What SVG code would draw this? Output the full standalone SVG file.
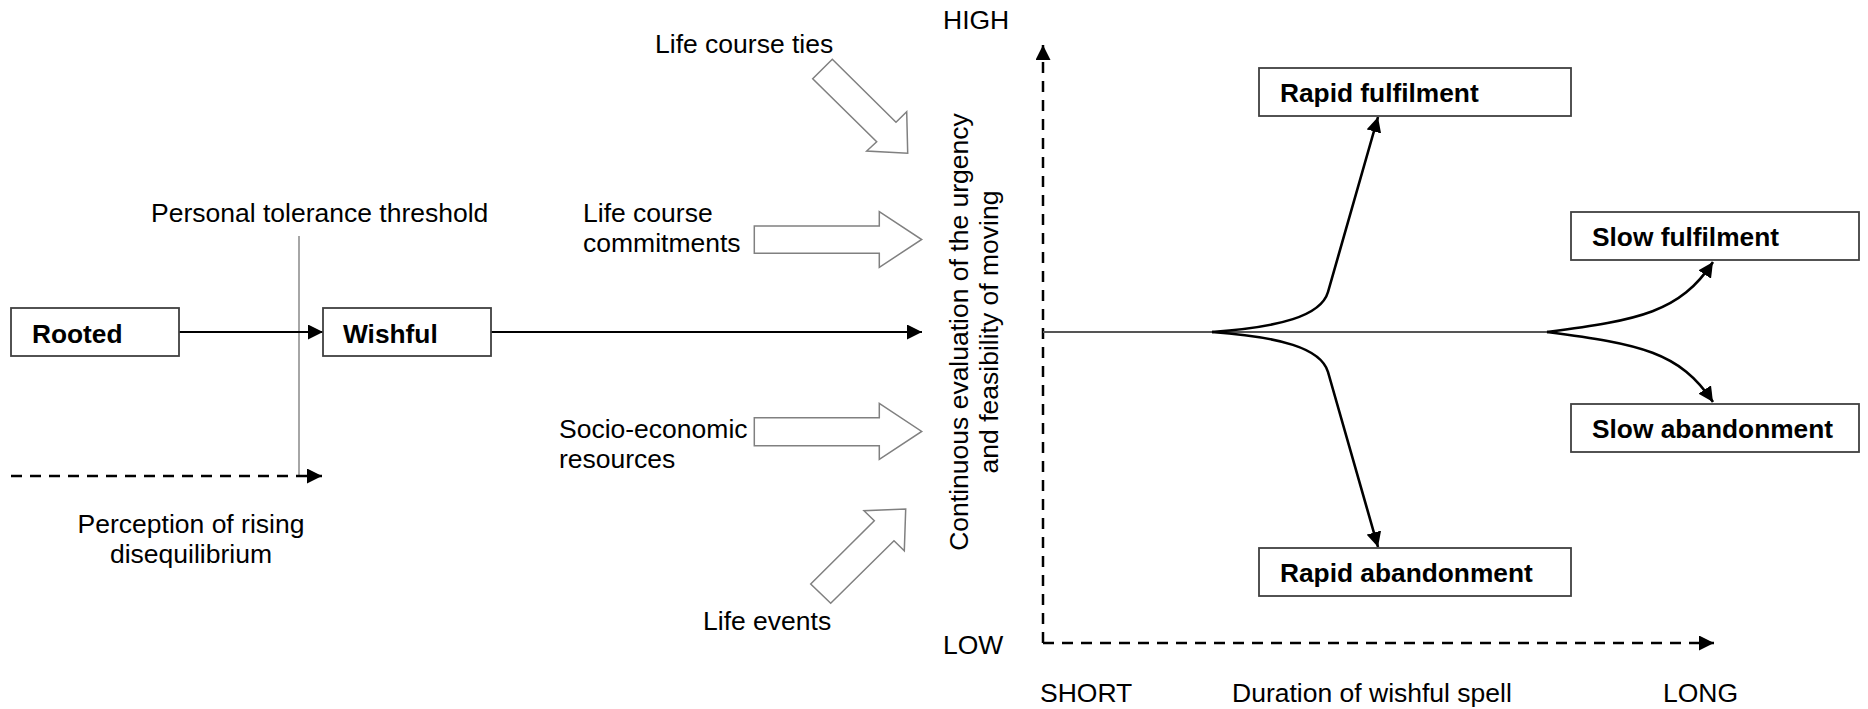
<svg xmlns="http://www.w3.org/2000/svg" width="1868" height="709" viewBox="0 0 1868 709">
<style>
text{font-family:"Liberation Sans",Arial,sans-serif;font-size:26.5px;fill:#000}
.b{font-weight:bold;font-size:26.3px}
.box{fill:#fff;stroke:#404040;stroke-width:1.8}
.blk{fill:#fff;stroke:#808080;stroke-width:1.5}
.con{fill:none;stroke:#000;stroke-width:2.2}
.dash{fill:none;stroke:#000;stroke-width:2.5;stroke-dasharray:11 8}
.curve{fill:none;stroke:#000;stroke-width:2.6}
</style>
<defs>
<marker id="ah" viewBox="0 0 15 15" refX="15" refY="7.5" markerWidth="15" markerHeight="15" markerUnits="userSpaceOnUse" orient="auto">
<path d="M0,0 L15,7.5 L0,15 z" fill="#000"/>
</marker>
</defs>
<rect width="1868" height="709" fill="#fff"/>

<g id="threshold">
<line x1="299" y1="236" x2="299" y2="475" stroke="#a6a6a6" stroke-width="2"/>
<text x="151" y="222">Personal tolerance threshold</text>
</g>

<g id="connectors">
<line class="con" x1="179" y1="332" x2="323" y2="332" marker-end="url(#ah)"/>
<line class="con" x1="491" y1="332" x2="922" y2="332" marker-end="url(#ah)"/>
<line class="dash" x1="11" y1="476" x2="322" y2="476" marker-end="url(#ah)"/>
<line class="dash" x1="1043" y1="643" x2="1043" y2="45" marker-end="url(#ah)"/>
<line class="dash" x1="1043" y1="643" x2="1714" y2="643" marker-end="url(#ah)"/>
<line x1="1043" y1="332" x2="1547" y2="332" stroke="#555" stroke-width="2.2"/>
<path class="curve" d="M1212,332 C1280,327 1321,316 1328,292 L1378,117" marker-end="url(#ah)"/>
<path class="curve" d="M1212,332 C1280,337 1321,348 1328,372 L1378,547" marker-end="url(#ah)"/>
<path class="curve" d="M1547,332 C1640,320 1680,312 1713,262" marker-end="url(#ah)"/>
<path class="curve" d="M1547,332 C1640,344 1680,352 1713,402" marker-end="url(#ah)"/>
</g>

<g id="rooted">
<rect class="box" x="11" y="308" width="168" height="48"/>
<text class="b" x="32" y="343">Rooted</text>
</g>
<g id="wishful">
<rect class="box" x="323" y="308" width="168" height="48"/>
<text class="b" x="343" y="343">Wishful</text>
</g>
<g id="perception">
<text x="191" y="533" text-anchor="middle">Perception of rising</text>
<text x="191" y="563" text-anchor="middle">disequilibrium</text>
</g>

<g id="life-course-ties">
<polygon class="blk" points="832.3,59.3 896,122.3 906.7,111.7 907.7,153.3 866.7,151 876.7,141.7 812.7,78.7"/>
<text x="655" y="53">Life course ties</text>
</g>
<g id="life-course-commitments">
<polygon class="blk" points="754.3,226 879.3,226 879.3,211.7 921.7,239.5 879.3,267.3 879.3,253.3 754.3,253.3"/>
<text x="583" y="222">Life course</text>
<text x="583" y="252">commitments</text>
</g>
<g id="socio-economic-resources">
<polygon class="blk" points="754.3,417.7 879.3,417.7 879.3,403.3 921.7,431.5 879.3,459.3 879.3,445.7 754.3,445.7"/>
<text x="559" y="438">Socio-economic</text>
<text x="559" y="468">resources</text>
</g>
<g id="life-events">
<polygon class="blk" points="810.7,584 874.3,520.7 864,510.7 905.7,509 904.3,550.7 894,540.7 830.7,603.3"/>
<text x="703" y="630">Life events</text>
</g>

<g id="evaluation">
<text transform="translate(968,332) rotate(-90)" text-anchor="middle">Continuous evaluation of the urgency</text>
<text transform="translate(998,332) rotate(-90)" text-anchor="middle">and feasibility of moving</text>
</g>

<g id="axis-labels">
<text x="943" y="29">HIGH</text>
<text x="943" y="654">LOW</text>
<text x="1040" y="702">SHORT</text>
<text x="1232" y="702">Duration of wishful spell</text>
<text x="1663" y="702">LONG</text>
</g>

<g id="rapid-fulfilment">
<rect class="box" x="1259" y="68" width="312" height="48"/>
<text class="b" x="1280" y="102">Rapid fulfilment</text>
</g>
<g id="rapid-abandonment">
<rect class="box" x="1259" y="548" width="312" height="48"/>
<text class="b" x="1280" y="582">Rapid abandonment</text>
</g>
<g id="slow-fulfilment">
<rect class="box" x="1571" y="212" width="288" height="48"/>
<text class="b" x="1592" y="246">Slow fulfilment</text>
</g>
<g id="slow-abandonment">
<rect class="box" x="1571" y="404" width="288" height="48"/>
<text class="b" x="1592" y="438">Slow abandonment</text>
</g>
</svg>
